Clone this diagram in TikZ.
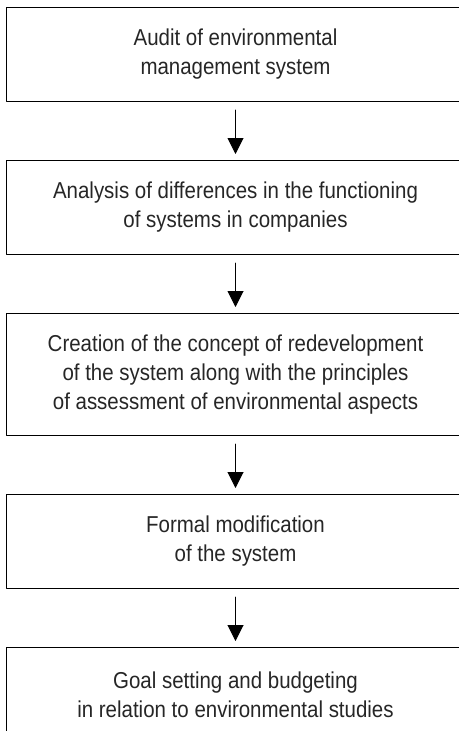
\documentclass[tikz,border=0pt]{standalone}
\usepackage{fontspec}
\setmainfont{Liberation Sans}[FakeStretch=0.89]
\usetikzlibrary{arrows.meta}
\usetikzlibrary{positioning}

\begin{document}
\begin{tikzpicture}[line cap=round,line join=round,>={Triangle[length=16bp,width=16bp]},x=1bp,y=1bp,
  stage/.style={draw,line width=1bp,minimum width=457bp,minimum height=94bp,align=center,inner sep=0pt,
    text=black!85,font=\fontsize{23bp}{29bp}\selectfont},
  node distance=58bp]
\clip (0,0) rectangle (459,-731);
\node[stage] (audit) at (235.5,-54.5) {Audit of environmental\\management system};
\node[stage,below=of audit] (analysis) {Analysis of differences in the functioning\\of systems in companies};
\node[stage,below=of analysis,minimum height=122bp] (concept) {Creation of the concept of redevelopment\\of the system along with the principles\\of assessment of environmental aspects};
\node[stage,below=of concept] (modification) {Formal modification\\of the system};
\node[stage,below=of modification] (goals) {Goal setting and budgeting\\in relation to environmental studies};
\draw[->,line width=1bp,shorten <=8bp,shorten >=6bp] (audit) -- (analysis);
\draw[->,line width=1bp,shorten <=8bp,shorten >=6bp] (analysis) -- (concept);
\draw[->,line width=1bp,shorten <=8bp,shorten >=6bp] (concept) -- (modification);
\draw[->,line width=1bp,shorten <=8bp,shorten >=6bp] (modification) -- (goals);
\end{tikzpicture}
\end{document}
